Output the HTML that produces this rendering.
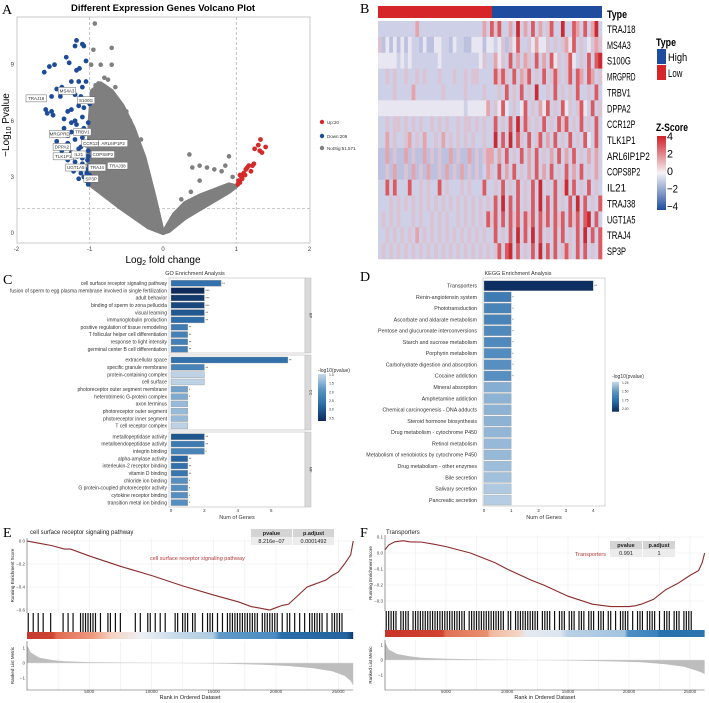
<!DOCTYPE html>
<html><head><meta charset="utf-8"><style>
html,body{margin:0;padding:0;background:#fff;}
svg{display:block;font-family:"Liberation Sans",sans-serif;}
</style></head><body>
<svg id="fig" width="709" height="703" viewBox="0 0 709 703" xmlns="http://www.w3.org/2000/svg"></svg>
<script>
// ---------- DATA ----------
const volcanoBlue=[[-1.62,8.6],[-1.55,8.9],[-1.48,9.0],[-1.32,9.4],[-1.28,9.1],[-1.18,10.3],[-1.2,10.0],[-1.1,10.1],[-1.08,10.0],[-1.05,9.2],[-1.18,8.7],[-1.14,8.8],[-1.25,8.1],[-1.15,8.1],[-1.05,8.1],[-1.1,7.8],[-1.38,7.8],[-1.45,7.7],[-1.52,7.3],[-1.4,7.3],[-1.2,7.4],[-1.12,7.3],[-1.6,6.6],[-1.58,6.4],[-1.52,6.5],[-1.5,6.3],[-1.3,6.5],[-1.25,6.6],[-1.15,6.8],[-1.08,6.7],[-1.0,6.9],[-1.35,6.1],[-1.2,6.0],[-1.1,6.2],[-1.35,5.6],[-1.25,5.4],[-1.18,5.8],[-1.08,5.6],[-1.02,5.9],[-1.45,4.9],[-1.3,4.8],[-1.2,5.0],[-1.1,5.1],[-1.05,4.7],[-1.38,4.4],[-1.25,4.3],[-1.15,4.5],[-1.08,4.2],[-1.02,4.4],[-1.3,3.9],[-1.2,3.8],[-1.1,3.7],[-1.03,3.9],[-1.22,3.3],[-1.12,3.2],[-1.05,3.4],[-1.0,3.1],[-1.15,2.9],[-1.05,2.8],[-1.02,2.6],[-1.1,4.0],[-1.0,3.6],[-1.08,3.0],[-1.01,4.9],[-1.06,5.3],[-1.12,4.6],[-1.17,4.1],[-1.04,3.2],[-1.13,3.5],[-1.25,5.9],[-1.3,5.2],[-1.02,4.1]];
const volcanoRed=[[1.02,2.6],[1.03,2.8],[1.05,2.7],[1.07,3.0],[1.1,3.2],[1.08,2.9],[1.12,3.1],[1.15,3.5],[1.17,3.6],[1.2,3.3],[1.22,3.6],[1.24,3.7],[1.25,4.5],[1.32,4.4],[1.35,4.3],[1.33,5.0],[1.4,4.6],[1.3,4.7],[1.05,3.1],[1.13,3.4]];
const volcanoGrey=[[-0.93,11.2],[-0.95,9.8],[-0.7,9.9],[-0.98,9.0],[-0.85,9.0],[-0.7,9.0],[-0.88,8.0],[-0.8,8.3],[-0.75,8.2],[-0.65,7.8],[-0.6,7.0],[-0.5,6.5],[-0.45,6.0],[-0.4,5.5],[-0.3,5.0],[-0.35,4.3],[0.36,4.2],[0.4,3.5],[0.5,3.6],[0.6,3.5],[0.7,3.4],[0.9,4.1],[0.85,3.6],[0.8,3.3],[0.95,3.0],[0.5,2.8],[0.38,2.2],[0.25,1.8],[-0.9,7.5],[-0.78,7.0],[-0.68,6.5],[-0.55,5.6],[-0.6,6.3],[-0.92,7.9],[-0.82,7.6]];
const greyLeftLobe=[[0,0],[-0.12,2],[-0.25,4],[-0.4,5.6],[-0.55,6.8],[-0.7,7.6],[-0.85,8],[-0.97,7.6],[-1.0,6],[-1.02,4],[-1.0,2.6],[-0.6,1.4],[-0.2,0.3]];
const greyRightLobe=[[0,0],[0.15,1.0],[0.3,1.6],[0.5,2.0],[0.7,2.3],[0.9,2.6],[1.0,2.5],[0.9,2.2],[0.6,1.5],[0.3,0.8],[0.08,0.1]];
const volcanoLabels=[["TRAJ18",-1.73,7.2],["MS4A3",-1.31,7.6],["S100G",-1.05,7.1],["MRGPRD",-1.41,5.3],["TRBV1",-1.1,5.4],["DPPA2",-1.38,4.6],["CCR12P",-0.97,4.8],["ARL6IP1P2",-0.68,4.8],["TLK1P1",-1.36,4.1],["IL21",-1.15,4.2],["COPS8P2",-0.82,4.2],["UGT1A5",-1.19,3.5],["TRAJ4",-0.9,3.5],["TRAJ38",-0.62,3.6],["SP3P",-0.98,2.9]];
const volcanoXTicks=[-2,-1,0,1,2];
const volcanoYTicks=[0,3,6,9];

const heatGenes=["TRAJ18","MS4A3","S100G","MRGPRD","TRBV1","DPPA2","CCR12P","TLK1P1","ARL6IP1P2","COPS8P2","IL21","TRAJ38","UGT1A5","TRAJ4","SP3P"];
const heatRows=[
"333333333363333333333333333363757336383637363573383376373683",
"524242424332422443324332244424434525473354644535356473534565",
"444443434333333343333333333453364537363653736374535743537378",
"335353353353533353335335355333375753736573537357535737637635",
"333353333633333335333335333353335373537353833537353537335373",
"444444444444444444444443444446354743534735364735374535743735",
"335355353535335353533535535353373537383753537353757353735373",
"336353356353633536353535353353383738375373573637353735374373",
"226252262522625252262522625256636373537363735363736373536363",
"225262252625262252625262525236537363735363736373537363735363",
"337373337335353373533353533373353735373537383537358373537353",
"333535353535353535353535353535373837373537383737353738373537",
"353535333535335353533535353537573737573757375737573757378373",
"335353535363535353535353535353373537383738373537373537383737",
"353535353535353535353535353535357378373537383737357537373537"];
const heatPalette=["#3050a0","#a0a8d2","#bcc1e0","#cdd0e6","#e8e6f0","#dcc3d3","#e6a3aa","#dc5a60","#cc2a30"];

const goTerms=[["cell surface receptor signaling pathway","fusion of sperm to egg plasma membrane involved in single fertilization","adult behavior","binding of sperm to zona pellucida","visual learning","immunoglobulin production","positive regulation of tissue remodeling","T follicular helper cell differentiation","response to light intensity","germinal center B cell differentiation"],
["extracellular space","specific granule membrane","protein-containing complex","cell surface","photoreceptor outer segment membrane","heterotrimeric G-protein complex","axon terminus","photoreceptor outer segment","photoreceptor inner segment","T cell receptor complex"],
["metallopeptidase activity","metalloendopeptidase activity","integrin binding","alpha-amylase activity","interleukin-2 receptor binding","vitamin D binding","chloride ion binding","G protein-coupled photoreceptor activity","cytokine receptor binding","transition metal ion binding"]];
const goCounts=[[3,2,2,2,2,2,1,1,1,1],[7,2,2,2,1,1,1,1,1,1],[2,2,2,1,1,1,1,1,1,1]];
const goLogP=[[2.6,3.6,3.4,3.2,3.0,2.7,2.4,2.3,2.3,2.3],[2.6,2.2,1.1,1.1,1.7,1.6,1.4,1.4,1.4,1.1],[3.0,2.4,2.2,2.8,2.6,2.5,2.0,2.0,2.0,2.0]];
const goStars=[["**","***","***","***","**","**","**","**","**","**"],["**","**","","","*","*","","","",""],["**","**","*","**","**","**","*","*","*","*"]];
const goOnt=["BP","CC","MF"];
const goXTicks=[0,2,4,6];
const goLegendTicks=[1.0,1.5,2.0,2.5,3.0,3.5];

const keggTerms=["Transporters","Renin-angiotensin system","Phototransduction","Ascorbate and aldarate metabolism","Pentose and glucuronate interconversions","Starch and sucrose metabolism","Porphyrin metabolism","Carbohydrate digestion and absorption","Cocaine addiction","Mineral absorption","Amphetamine addiction","Chemical carcinogenesis - DNA adducts","Steroid hormone biosynthesis","Drug metabolism - cytochrome P450","Retinol metabolism","Metabolism of xenobiotics by cytochrome P450","Drug metabolism - other enzymes","Bile secretion","Salivary secretion","Pancreatic secretion"];
const keggCounts=[4,1,1,1,1,1,1,1,1,1,1,1,1,1,1,1,1,1,1,1];
const keggLogP=[2.05,1.62,1.56,1.56,1.52,1.52,1.5,1.48,1.48,1.32,1.3,1.3,1.3,1.28,1.27,1.27,1.25,1.24,1.2,1.18];
const keggStars=["**","*","*","*","*","*","*","*","*","","","","","","","","","","",""];
const keggXTicks=[0,1,2,3,4];
const keggLegendTicks=[1.25,1.5,1.75,2.0];

const gseaXTicks=[5000,10000,15000,20000,25000];
const esRankE=[0,500,1000,2000,3000,3500,5000,7500,10000,12500,15000,17000,18000,19000,19500,20000,20500,21000,21500,22000,22500,23000,23500,24000,24500,25000,25500,26000,26200];
const esValE=[0,-0.01,-0.02,-0.04,-0.07,-0.07,-0.13,-0.22,-0.3,-0.39,-0.47,-0.53,-0.57,-0.59,-0.6,-0.58,-0.56,-0.55,-0.5,-0.45,-0.4,-0.38,-0.36,-0.34,-0.3,-0.27,-0.2,-0.12,0.0];
const esRankF=[0,300,800,1500,2000,3000,4000,5000,7000,9000,10000,12000,13000,15000,17000,18500,20000,20500,21000,22000,23000,24000,25000,25700,26000,26200];
const esValF=[0.02,0.05,0.07,0.077,0.07,0.068,0.055,0.04,0.0,-0.06,-0.1,-0.17,-0.2,-0.27,-0.32,-0.335,-0.335,-0.33,-0.32,-0.29,-0.23,-0.19,-0.14,-0.11,-0.06,0.0];
const metricRank=[0,300,1000,2000,3000,5000,8000,12000,16000,19000,21000,23000,24500,25500,26000,26200];
const metricValE=[1.2,0.7,0.35,0.2,0.12,0.06,0.03,0,-0.05,-0.12,-0.2,-0.35,-0.55,-0.85,-1.2,-1.5];
const metricValF=[1.2,0.7,0.4,0.25,0.15,0.08,0.04,0,-0.05,-0.1,-0.15,-0.28,-0.45,-0.7,-0.85,-0.95];
const hitsE="1010101001000010101001111111010011010100000101001101010100011011101100101110101011111111111110111111101011010101011111101011111";
const hitsF="1111101111011111111111111111111110111111111111111011011111111110111101011101110111011101110110101111010111011110101110111011110";
const esTicksE=[0.0,-0.2,-0.4,-0.6];
const esTicksF=[0.1,0.0,-0.1,-0.2,-0.3];

// ---------- HELPERS ----------
const NS="http://www.w3.org/2000/svg";
const svg=document.getElementById('fig');
function el(tag,a,p){const e=document.createElementNS(NS,tag);for(const k in a)e.setAttribute(k,a[k]);(p||svg).appendChild(e);return e;}
function txt(s,a,p){const e=el('text',a,p);e.textContent=s;return e;}
function hex(c){return [parseInt(c.slice(1,3),16),parseInt(c.slice(3,5),16),parseInt(c.slice(5,7),16)];}
function lerpCol(stops,t){t=Math.max(0,Math.min(1,t));const n=stops.length-1;const i=Math.min(n-1,Math.floor(t*n));const f=t*n-i;const a=hex(stops[i]),b=hex(stops[i+1]);return 'rgb('+a.map((v,k)=>Math.round(v+(b[k]-v)*f)).join(',')+')';}
const blueStops=["#c9dae9","#5d95c4","#2a6aa6","#0c2b5c"];
let t;

[["A",2,14],["B",360,13],["C",3,284],["D",360,281],["E",3,537],["F",360,537]].forEach(p=>{
  const e=txt(p[0],{x:p[1],y:p[2],'font-family':'"Liberation Serif",serif','font-size':14});
  
  
});

// ---------- PANEL A ----------
const gA=el('g',{});


const xA=v=>163+v*73.3, yA=v=>233-v*18.7;
t=txt("Different Expression Genes Volcano Plot",{x:163,y:11,'text-anchor':'middle','font-size':9.5,'font-weight':'bold'},gA);

t=el('rect',{x:17,y:17,width:293,height:226,fill:'none',stroke:'#bbb','stroke-width':0.8},gA);

[-1,1].forEach(v=>{t=el('line',{x1:xA(v),x2:xA(v),y1:17,y2:243,stroke:'#aaa','stroke-dasharray':'3,2','stroke-width':0.7},gA);
 });
t=el('line',{x1:17,x2:310,y1:yA(1.3),y2:yA(1.3),stroke:'#aaa','stroke-dasharray':'3,2','stroke-width':0.7},gA);

volcanoXTicks.forEach(v=>{t=txt(String(v),{x:xA(v),y:251,'font-size':6,'text-anchor':'middle',fill:'#444'},gA);
 });
volcanoYTicks.forEach(v=>{t=txt(String(v),{x:14,y:yA(v)+2,'font-size':6,'text-anchor':'end',fill:'#444'},gA);
 });
t=txt("",{x:163,y:263,'font-size':10,'text-anchor':'middle'},gA);
t.innerHTML='Log<tspan font-size="7" dy="2">2</tspan><tspan dy="-2"> fold change</tspan>';

t=txt("",{x:0,y:0,'font-size':10,'text-anchor':'middle',transform:'translate(9,125) rotate(-90)'},gA);
t.innerHTML='\u2212Log<tspan font-size="7" dy="2">10</tspan><tspan dy="-2"> Pvalue</tspan>';

[greyLeftLobe,greyRightLobe].forEach(poly=>{t=el('polygon',{points:poly.map(p=>xA(p[0])+','+yA(p[1])).join(' '),fill:'#7f7f7f',stroke:'#7f7f7f','stroke-width':4,'stroke-linejoin':'round'},gA);
 });
volcanoGrey.forEach(p=>{t=el('circle',{cx:xA(p[0]),cy:yA(p[1]),r:2.3,fill:'#7f7f7f'},gA);
 });
volcanoBlue.forEach(p=>{t=el('circle',{cx:xA(p[0]),cy:yA(p[1]),r:2.4,fill:'#1d4b9a'},gA);
 });
volcanoRed.forEach(p=>{t=el('circle',{cx:xA(p[0]),cy:yA(p[1]),r:2.4,fill:'#d42a2a'},gA);
 });
volcanoLabels.forEach(l=>{const w=l[0].length*2.9+3;
 t=el('rect',{x:xA(l[1])-w/2,y:yA(l[2])-3.5,width:w,height:7,fill:'#fff',stroke:'#666','stroke-width':0.5},gA);
 
 t=txt(l[0],{x:xA(l[1]),y:yA(l[2])+1.6,'font-size':4.5,'text-anchor':'middle',fill:'#333'},gA);
 });
[["Up:20","#d42a2a",122],["Down:209","#1d4b9a",136],["NotSig:51,571","#7f7f7f",148]].forEach(l=>{
 t=el('circle',{cx:322,cy:l[2],r:2.2,fill:l[1]},gA);
 
 t=txt(l[0],{x:327,y:l[2]+1.8,'font-size':4.5,fill:'#333'},gA);
 });

// ---------- PANEL B ----------
const gB=el('g',{});


const hx0=378,hx1=602,hy0=21,hy1=259;
t=el('rect',{x:hx0,y:6,width:492-hx0,height:12,fill:'#d7262a'},gB);

t=el('rect',{x:492,y:6,width:hx1-492,height:12,fill:'#1f4c9e'},gB);

t=txt("Type",{x:607,y:18,'font-size':11,'font-weight':'bold',textLength:20,lengthAdjust:'spacingAndGlyphs'},gB);

const rh=(hy1-hy0)/heatRows.length;
heatRows.forEach((row,r)=>{const cw=(hx1-hx0)/row.length;
 for(let c=0;c<row.length;c++){t=el('rect',{x:hx0+c*cw,y:hy0+r*rh,width:cw+0.3,height:rh+0.3,fill:heatPalette[+row[c]]},gB);
  }
 t=txt(heatGenes[r],{x:607,y:hy0+(r+0.5)*rh+4,'font-size':11,textLength:heatGenes[r].length*4.75,lengthAdjust:'spacingAndGlyphs'},gB);
 });
t=txt("Type",{x:656,y:46,'font-size':11,'font-weight':'bold',textLength:20,lengthAdjust:'spacingAndGlyphs'},gB);

[["High","#1f4c9e",49],["Low","#d7262a",65]].forEach(l=>{
 t=el('rect',{x:657,y:l[2],width:9,height:15,fill:l[1]},gB);
 
 t=txt(l[0],{x:668,y:l[2]+12,'font-size':11,textLength:l[0].length*4.8,lengthAdjust:'spacingAndGlyphs'},gB);
 });
t=txt("Z-Score",{x:656,y:131,'font-size':11,'font-weight':'bold',textLength:32,lengthAdjust:'spacingAndGlyphs'},gB);

const defs=el('defs',{});
const lg=el('linearGradient',{id:'zg',x1:0,y1:0,x2:0,y2:1},defs);
[["0","#d02028"],["0.5","#f4f2f6"],["1","#1f4c9e"]].forEach(s=>el('stop',{offset:s[0],'stop-color':s[1]},lg));
t=el('rect',{x:657,y:136,width:9,height:74,fill:'url(#zg)'},gB);

[4,2,0,-2,-4].forEach((v,i)=>{t=txt(v<0?'\u2212'+(-v):String(v),{x:667,y:140+i*17.5,'font-size':11,textLength:v<0?11:6,lengthAdjust:'spacingAndGlyphs'},gB);
 });

// ---------- PANEL C ----------
const gC=el('g',{});


const xC=v=>171+v*16.7;
const goBoxes=[[278,353],[355,430],[432,507]];
const goFirst=[283.3,360,436.7];
t=txt("GO Enrichment Analysis",{x:195,y:275,'font-size':5.5,'text-anchor':'middle',fill:'#333'},gC);

goTerms.forEach((terms,p)=>{
 t=el('rect',{x:169,y:goBoxes[p][0],width:136,height:goBoxes[p][1]-goBoxes[p][0],fill:'#fff',stroke:'#bbb','stroke-width':0.6},gC);
 
 t=el('rect',{x:305,y:goBoxes[p][0],width:6,height:goBoxes[p][1]-goBoxes[p][0],fill:'#d9d9d9',stroke:'#bbb','stroke-width':0.5},gC);
 
 t=txt(goOnt[p],{x:0,y:0,'font-size':4,'text-anchor':'middle',transform:'translate(309.5,'+(goBoxes[p][0]+goBoxes[p][1])/2+') rotate(90)',fill:'#333'},gC);
 
 terms.forEach((term,i)=>{const cy=goFirst[p]+i*7.32;
  t=el('rect',{x:xC(0),y:cy-3,width:xC(goCounts[p][i])-xC(0),height:6,fill:lerpCol(blueStops,(goLogP[p][i]-1)/2.6),stroke:'#999','stroke-width':0.4},gC);
  
  t=txt(term,{x:167,y:cy+1.7,'font-size':5.0,'text-anchor':'end',fill:'#333'},gC);
  
  t=txt(goStars[p][i],{x:xC(goCounts[p][i])+1,y:cy+1.5,'font-size':3.5,fill:'#333'},gC);
  });
});
goXTicks.forEach(v=>{t=txt(String(v),{x:xC(v),y:512,'font-size':4.5,'text-anchor':'middle',fill:'#333'},gC);
 });
t=txt("Num of Genes",{x:237,y:519,'font-size':5.5,'text-anchor':'middle',fill:'#333'},gC);

t=txt("-log10(pvalue)",{x:318,y:372,'font-size':5,fill:'#333'},gC);

const lgC=el('linearGradient',{id:'gc',x1:0,y1:0,x2:0,y2:1},defs);
[0,0.33,0.66,1].forEach((o,i)=>el('stop',{offset:o,'stop-color':blueStops[i]},lgC));
t=el('rect',{x:318,y:374,width:8,height:47,fill:'url(#gc)'},gC);

goLegendTicks.forEach(v=>{t=txt(v.toFixed(1),{x:329,y:376+(v-1)/2.6*45,'font-size':3.5,fill:'#333'},gC);
 });

// ---------- PANEL D ----------
const gD=el('g',{});


const xD=v=>484+v*27.3;
t=txt("KEGG Enrichment Analysis",{x:518,y:275,'font-size':5.5,'text-anchor':'middle',fill:'#333'},gD);

t=el('rect',{x:483,y:278,width:122,height:228,fill:'#fff',stroke:'#bbb','stroke-width':0.6},gD);

keggTerms.forEach((term,i)=>{const cy=285.7+i*11.28;
 t=el('rect',{x:xD(0),y:cy-5,width:xD(keggCounts[i])-xD(0),height:10,fill:lerpCol(blueStops,(keggLogP[i]-1.12)/0.95),stroke:'#aaa','stroke-width':0.4},gD);
 
 t=txt(term,{x:477,y:cy+1.8,'font-size':5.3,'text-anchor':'end',fill:'#333'},gD);
 
 t=txt(keggStars[i],{x:xD(keggCounts[i])+1,y:cy+1.5,'font-size':3.5,fill:'#333'},gD);
 });
keggXTicks.forEach(v=>{t=txt(String(v),{x:xD(v),y:512,'font-size':4.5,'text-anchor':'middle',fill:'#333'},gD);
 });
t=txt("Num of Genes",{x:544,y:519,'font-size':5.5,'text-anchor':'middle',fill:'#333'},gD);

t=txt("-log10(pvalue)",{x:612,y:378,'font-size':5,fill:'#333'},gD);

t=el('rect',{x:612,y:381.7,width:7,height:30,fill:'url(#gc)'},gD);

keggLegendTicks.forEach(v=>{t=txt(v.toFixed(2),{x:622,y:384+(v-1.25)/0.75*26,'font-size':3.3,fill:'#333'},gD);
 });

// ---------- GSEA ----------
function gsea(cfg){
 const g=el('g',{});
 
 
 const X=v=>cfg.x0+v*cfg.sx, Y=v=>cfg.y0-v*cfg.sy, M=v=>cfg.m0-v*cfg.msy;
 const L=cfg.x0, R=X(26200);
 gseaXTicks.forEach(v=>{[v-2500,v].forEach(gv=>{
  t=el('line',{x1:X(gv),x2:X(gv),y1:cfg.top,y2:cfg.hitTop,stroke:'#ececec','stroke-width':0.6},g);
  
  t=el('line',{x1:X(gv),x2:X(gv),y1:cfg.mTop,y2:cfg.mBot,stroke:'#ececec','stroke-width':0.6},g);
  });});
 cfg.esTicks.forEach(v=>{t=el('line',{x1:L,x2:R,y1:Y(v),y2:Y(v),stroke:'#ececec','stroke-width':0.6},g);
  
  t=txt(v.toFixed(1).replace('-','\u2212'),{x:L-2,y:Y(v)+1.5,'font-size':4.5,'text-anchor':'end',fill:'#444'},g);
  });
 t=el('line',{x1:L,x2:L,y1:cfg.top,y2:cfg.hitTop,stroke:'#555','stroke-width':0.6},g);
 
 t=el('polyline',{points:cfg.esRank.map((r,i)=>X(r)+','+Y(cfg.esVal[i])).join(' '),fill:'none',stroke:'#8b2b2b','stroke-width':1.1},g);
 
 const bw=200*cfg.sx;
 for(let i=0;i<cfg.hits.length;i++){if(cfg.hits[i]!=='0'){
  t=el('line',{x1:X(i*200+100),x2:X(i*200+100),y1:cfg.hitTop,y2:cfg.bandTop,stroke:'#111','stroke-width':Math.min(1.2,bw*0.7)},g);
  }}
 const lgb=el('linearGradient',{id:cfg.name+'b',x1:0,y1:0,x2:1,y2:0},defs);
 cfg.band.forEach(s=>el('stop',{offset:s[0],'stop-color':s[1]},lgb));
 t=el('rect',{x:L,y:cfg.bandTop,width:R-L,height:7,fill:'url(#'+cfg.name+'b)'},g);
 
 t=el('polygon',{points:X(0)+','+M(0)+' '+metricRank.map((r,i)=>X(r)+','+M(cfg.metric[i])).join(' ')+' '+X(26200)+','+M(0),fill:'#bdbdbd'},g);
 
 t=el('line',{x1:L,x2:R,y1:M(0),y2:M(0),stroke:'#ddd','stroke-width':0.5},g);
 
 t=el('polyline',{points:L+','+cfg.mTop+' '+L+','+cfg.mBot+' '+R+','+cfg.mBot,fill:'none',stroke:'#555','stroke-width':0.6},g);
 
 [1,0,-1].forEach(v=>{t=txt(v<0?'\u22121':String(v),{x:L-2,y:M(v)+1.5,'font-size':4.5,'text-anchor':'end',fill:'#444'},g);
  });
 gseaXTicks.forEach(v=>{t=txt(String(v),{x:X(v),y:693,'font-size':4.5,'text-anchor':'middle',fill:'#444'},g);
  });
 t=txt("Rank in Ordered Dataset",{x:(L+R)/2,y:699,'font-size':5.5,'text-anchor':'middle',fill:'#222'},g);
 
 t=txt("Running Enrichment Score",{x:0,y:0,'font-size':4.5,'text-anchor':'middle',transform:'translate('+(L-13)+','+(cfg.top+cfg.hitTop)/2+') rotate(-90)',fill:'#222'},g);
 
 t=txt("Ranked List Metric",{x:0,y:0,'font-size':4.5,'text-anchor':'middle',transform:'translate('+(L-13)+','+(cfg.mTop+cfg.mBot)/2+') rotate(-90)',fill:'#222'},g);
 
 t=txt(cfg.title,{x:cfg.titleX,y:534,'font-size':6,fill:'#222'},g);
 
 const tb=cfg.table;
 [[tb.x,"pvalue"],[tb.x+tb.w+1,"p.adjust"]].forEach(c=>{
  t=el('rect',{x:c[0],y:tb.y,width:tb.w,height:8,fill:'#d4d4d4'},g);
  
  t=txt(c[1],{x:c[0]+tb.w/2,y:tb.y+6,'font-size':5.5,'font-weight':'bold','text-anchor':'middle',fill:'#222'},g);
  });
 [[tb.x,tb.v1],[tb.x+tb.w+1,tb.v2]].forEach(c=>{
  t=el('rect',{x:c[0],y:tb.y+8,width:tb.w,height:8,fill:'#ececec'},g);
  
  t=txt(c[1],{x:c[0]+tb.w/2,y:tb.y+14,'font-size':5.5,'text-anchor':'middle',fill:'#222'},g);
  });
 t=txt(cfg.setLabel[0],{x:cfg.setLabel[1],y:cfg.setLabel[2],'font-size':5.5,'text-anchor':cfg.setLabel[3],fill:'#b33a3a'},g);
 
}
gsea({name:'gsea-plot-e',x0:27,sx:0.01245,y0:541,sy:115,top:538,hitTop:613,bandTop:632,m0:663,msy:15,mTop:641,mBot:690,
 esRank:esRankE,esVal:esValE,metric:metricValE,hits:hitsE,esTicks:esTicksE,title:"cell surface receptor signaling pathway",titleX:30,
 band:[[0,"#c73a2f"],[0.08,"#cf4532"],[0.09,"#e06b50"],[0.2,"#ee9a80"],[0.26,"#f6d3c3"],[0.35,"#eef0f5"],[0.45,"#c9dcea"],[0.57,"#aecbe2"],[0.59,"#5f9ac8"],[0.76,"#4c8cc2"],[0.78,"#2b6eaa"],[0.98,"#24649f"],[1,"#0f3a6b"]],
 table:{x:251,y:529,w:41,v1:"8.216e\u221207",v2:"0.0001492"},setLabel:["cell surface receptor signaling pathway",150,560,'start']});
gsea({name:'gsea-plot-f',x0:385,sx:0.0122,y0:553,sy:160,top:535,hitTop:611,bandTop:630,m0:660,msy:15,mTop:640,mBot:690,
 esRank:esRankF,esVal:esValF,metric:metricValF,hits:hitsF,esTicks:esTicksF,title:"Transporters",titleX:386,
 band:[[0,"#c9342a"],[0.18,"#d0442f"],[0.19,"#e07055"],[0.32,"#e8906f"],[0.33,"#f0b89e"],[0.42,"#f4d6c6"],[0.44,"#e6e9f1"],[0.55,"#dbe5f0"],[0.57,"#b9d1e6"],[0.75,"#a3c3df"],[0.76,"#4f8ec4"],[0.85,"#3d83bf"],[0.86,"#2872ae"],[1,"#2a74b0"]],
 table:{x:610,y:541,w:32,v1:"0.991",v2:"1"},setLabel:["Transporters",606,556,'end']});
</script>
</body></html>
